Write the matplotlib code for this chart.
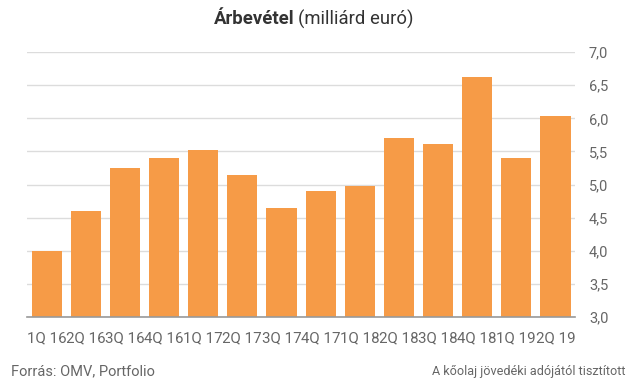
import matplotlib
matplotlib.use("Agg")
import matplotlib.pyplot as plt
from matplotlib.ticker import FuncFormatter

plt.rcParams['font.family'] = ['Roboto', 'DejaVu Sans']

quarters = ["1Q 16", "2Q 16", "3Q 16", "4Q 16", "1Q 17", "2Q 17", "3Q 17",
            "4Q 17", "1Q 18", "2Q 18", "3Q 18", "4Q 18", "1Q 19", "2Q 19"]
revenue = [4.00, 4.60, 5.25, 5.40, 5.52, 5.14, 4.65,
           4.90, 4.98, 5.70, 5.61, 6.63, 5.40, 6.03]
yticks = [3.0, 3.5, 4.0, 4.5, 5.0, 5.5, 6.0, 6.5, 7.0]

bar_color = "#F69B47"
grey = "#666666"

fig = plt.figure(figsize=(6.33, 3.81), dpi=100)
ax = fig.add_axes([0.0427, 0.1672, 0.8657, 0.6963])

x = range(len(quarters))
ax.bar(x, revenue, width=0.77, color=bar_color, zorder=2)

ax.set_ylim(3.0, 7.0)
ax.set_xlim(-0.5, len(quarters) - 0.5)
ax.set_yticks(yticks)
ax.yaxis.set_major_formatter(FuncFormatter(lambda v, p: f"{v:.1f}".replace(".", ",")))
ax.yaxis.tick_right()
ax.tick_params(axis="y", length=0, pad=10, labelsize=10.5, labelcolor=grey)
ax.set_xticks(list(x))
ax.set_xticklabels(quarters)
ax.tick_params(axis="x", length=0, pad=10, labelsize=10.8, labelcolor=grey)
ax.grid(axis="y", color="#dcdcdc", linewidth=1, zorder=0)

for s in ["top", "left", "right"]:
    ax.spines[s].set_visible(False)
ax.spines["bottom"].set_color("#999999")
ax.spines["bottom"].set_linewidth(1.2)
ax.spines["bottom"].set_zorder(3)

# title: bold part + normal part, centered together
t1 = fig.text(0.5, 1 - 19 / 381, "Árbevétel", fontsize=13.3, fontweight="bold",
              color="#333333", ha="left", va="center")
t2 = fig.text(0.5, 1 - 19 / 381, "(milliárd euró)", fontsize=13.3,
              color="#333333", ha="left", va="center")
fig.canvas.draw()
r = fig.canvas.get_renderer()
gap = 4 / 633
w1 = t1.get_window_extent(r).width / fig.bbox.width
w2 = t2.get_window_extent(r).width / fig.bbox.width
start = 313.5 / 633 - (w1 + gap + w2) / 2
t1.set_x(start)
t2.set_x(start + w1 + gap)

fig.text(11 / 633, 1 - 371 / 381, "Forrás: OMV, Portfolio", fontsize=10.5,
         color=grey, ha="left", va="center")
fig.text(625 / 633, 1 - 371 / 381, "A kőolaj jövedéki adójától tisztított",
         fontsize=9.1, color=grey, ha="right", va="center")

fig.savefig("out.png", dpi=100)
